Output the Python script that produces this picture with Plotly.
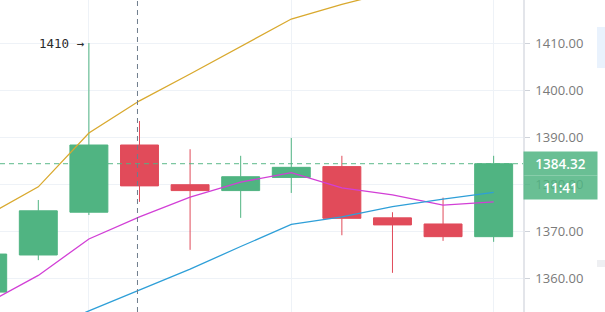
import plotly.graph_objects as go

# ---- data ----
idx = list(range(11))
opens  = [1357.0, 1364.9, 1374.0, 1388.3, 1379.85, 1378.6, 1381.4, 1383.7, 1372.8, 1371.5, 1368.8]
highs  = [1366.0, 1376.6, 1410.0, 1393.4, 1387.4, 1386.0, 1389.8, 1386.0, 1374.0, 1377.1, 1386.0]
lows   = [1355.0, 1363.8, 1373.4, 1376.2, 1366.0, 1372.8, 1378.1, 1369.1, 1361.1, 1367.9, 1367.7]
closes = [1365.1, 1374.3, 1388.3, 1379.6, 1378.6, 1381.55, 1383.55, 1372.7, 1371.3, 1368.8, 1384.32]

ma_gold    = [1373.4, 1379.4, 1390.85, 1397.7, 1403.4, 1409.2, 1415.1, 1418.2, 1421.0, 1423.5, 1426.0]
ma_magenta = [1354.7, 1360.55, 1368.3, 1373.0, 1377.2, 1380.4, 1382.4, 1379.2, 1377.7, 1375.5, 1376.2]
ma_blue    = [1345.1, 1348.5, 1353.0, 1357.4, 1361.9, 1366.7, 1371.4, 1373.0, 1375.2, 1376.8, 1378.2]

y_ticks = [1360, 1370, 1380, 1390, 1400, 1410]
last_price = 1384.32
last_time = "11:41"
high_label = "1410 →"
high_idx = 2
crosshair_idx = 3

GREEN = "#50b482"
RED = "#e14b5a"

fig = go.Figure()
fig.add_trace(go.Candlestick(
    x=idx, open=opens, high=highs, low=lows, close=closes,
    increasing=dict(line=dict(color=GREEN, width=1), fillcolor=GREEN),
    decreasing=dict(line=dict(color=RED, width=1), fillcolor=RED),
    whiskerwidth=0, showlegend=False, hoverinfo="skip",
))
fig.add_trace(go.Scatter(x=idx, y=ma_gold, mode="lines",
                         line=dict(color="#d9a92e", width=1.3), showlegend=False, hoverinfo="skip"))
fig.add_trace(go.Scatter(x=idx, y=ma_magenta, mode="lines",
                         line=dict(color="#d23fd6", width=1.3), showlegend=False, hoverinfo="skip"))
fig.add_trace(go.Scatter(x=idx, y=ma_blue, mode="lines",
                         line=dict(color="#2e9fd8", width=1.3), showlegend=False, hoverinfo="skip"))

# last price dashed line
fig.add_shape(type="line", xref="paper", x0=0, x1=1, yref="y", y0=last_price, y1=last_price,
              line=dict(color="rgba(80,180,130,0.75)", width=1.2, dash="5px,4px"), layer="above")
# crosshair
fig.add_shape(type="line", xref="x", x0=crosshair_idx - 0.04, x1=crosshair_idx - 0.04, yref="paper", y0=0, y1=1,
              line=dict(color="#6f7d8c", width=1, dash="5px,4px"), layer="above")

# right edge decorations
fig.add_shape(type="rect", xref="paper", yref="paper", x0=597/523, x1=606/523, y0=1-68/312, y1=1-27/312,
              fillcolor="#e9f2fd", line=dict(width=0))
fig.add_shape(type="rect", xref="paper", yref="paper", x0=597/523, x1=606/523, y0=1-267/312, y1=1-260/312,
              fillcolor="#eeeff2", line=dict(width=0))

fig.add_annotation(x=high_idx, y=highs[high_idx], xref="x", yref="y", text=high_label,
                   showarrow=False, xanchor="right", yanchor="middle", xshift=-2,
                   font=dict(family="DejaVu Sans Mono", size=12.5, color="#2b2b2b"))

fig.add_annotation(x=1, xref="paper", y=last_price, yref="y", text=f"{last_price:.2f}",
                   showarrow=False, xanchor="left", yanchor="middle", width=73, height=23,
                   bgcolor="rgba(80,180,130,0.86)", borderpad=0, align="center",
                   font=dict(family="Open Sans", size=13.5, color="white", weight=600))
fig.add_annotation(x=1, xref="paper", y=last_price, yref="y", text=last_time,
                   showarrow=False, xanchor="left", yanchor="middle", width=73, height=23,
                   yshift=-24, bgcolor="rgba(80,180,130,0.86)", borderpad=0, align="center",
                   font=dict(family="Open Sans", size=13.5, color="white", weight=600))

fig.update_layout(
    width=605, height=312,
    margin=dict(l=0, r=82, t=0, b=0),
    paper_bgcolor="white", plot_bgcolor="white",
    boxgap=0.25, boxgroupgap=0,
    xaxis=dict(range=[0.243, 10.58], rangeslider=dict(visible=False),
               tickvals=[2, 6, 10], showticklabels=False, ticks="",
               showgrid=True, gridcolor="#eef2f7", gridwidth=1, zeroline=False, showline=False),
    yaxis=dict(side="right", range=[1352.77, 1419.15], tickvals=y_ticks, tickformat=".2f",
               showgrid=True, gridcolor="#eef2f7", gridwidth=1, zeroline=False,
               ticks="outside", ticklen=5, tickcolor="#cfd3da", ticklabelstandoff=3,
               showline=True, linecolor="#e3e5ea", linewidth=1.5,
               tickfont=dict(family="Open Sans", size=13, color="#7a7a7a")),
)

fig.write_html("out.html")
